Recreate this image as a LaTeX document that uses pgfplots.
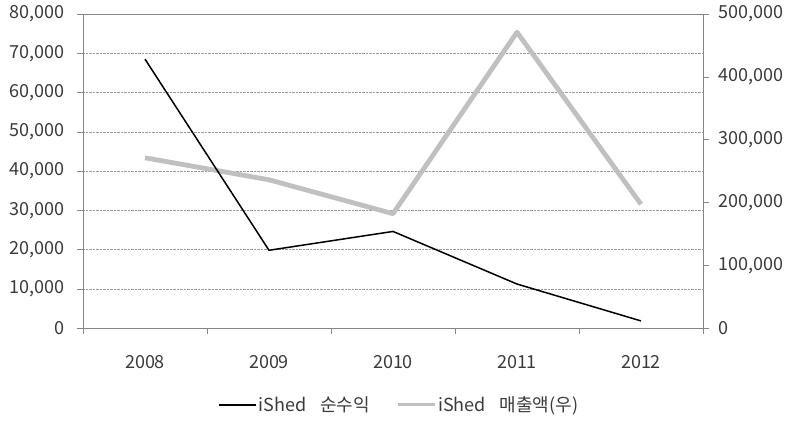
\documentclass[border=0pt]{standalone}
\usepackage{fontspec}
\setmainfont{Noto Sans CJK KR}
\usepackage{pgfplots}
\pgfplotsset{compat=1.18}
\usetikzlibrary{calc}
\definecolor{axgray}{HTML}{868686}
\definecolor{gridgray}{HTML}{9A9A9A}
\definecolor{linegray}{HTML}{C0C0C0}
\definecolor{txt}{HTML}{3A3A3A}
\begin{document}
\begin{tikzpicture}
\pgfplotsset{
  base/.style={
    scale only axis, width=620pt, height=314pt,
    at={(0,0)}, anchor=south west,
    xmin=-0.5, xmax=4.5,
    tick align=outside,
    major tick length=6pt, minor tick length=6pt,
    ticklabel style={font=\fontsize{18}{21}\selectfont, text=txt},
    /pgf/number format/assume math mode=true,
    /pgf/number format/fixed, /pgf/number format/1000 sep={,},
    scaled y ticks=false,
    axis line style={axgray},
    tick style={axgray},
    major grid style={gridgray, densely dotted},
  }
}
\begin{axis}[base, name=ax,
  ymin=0, ymax=500000,
  axis x line*=bottom, axis y line*=right,
  xtick={0,...,4}, xticklabels={2008,2009,2010,2011,2012},
  minor xtick={-0.5,0.5,...,4.5},
  major x tick style={draw=none},
  ytick={0,100000,...,500000},
  extra y ticks={62500,125000,187500,250000,312500,375000,437500},
  extra y tick labels={},
  extra y tick style={grid=major, major tick length=0pt},
  yticklabel style={xshift=6pt},
  xticklabel style={yshift=-18pt},
]
\draw[axgray] (rel axis cs:0,1) -- (rel axis cs:1,1);
\addplot[linegray, line width=4.8pt, line join=round] coordinates {(0,271000)(1,236000)(2,182000)(3,471000)(4,197000)};
\end{axis}
\begin{axis}[base,
  ymin=0, ymax=80000,
  axis x line=none, axis y line*=left,
  ytick={0,10000,...,80000},
  yticklabel style={xshift=-9pt},
  legend style={at={(0.51,-0.245)}, anchor=center, draw=none, fill=none,
    font=\fontsize{18}{21}\selectfont, text=txt,
    /tikz/every even column/.append style={column sep=24pt}},
  legend columns=2,
  legend image code/.code={\draw[#1] (0pt,0pt) -- (37pt,0pt);},
]
\addplot[black, line width=1.5pt] coordinates {(0,68500)(1,19800)(2,24600)(3,11200)(4,1800)};
\addlegendentry{iShed\hspace{0.55em} 순수익}
\addlegendimage{linegray, line width=3pt}
\addlegendentry{iShed\hspace{0.55em} 매출액(우)}
\end{axis}
\path ($(ax.south west)+(-83pt,-93pt)$) rectangle ($(ax.north east)+(89pt,14pt)$);
\end{tikzpicture}
\end{document}
